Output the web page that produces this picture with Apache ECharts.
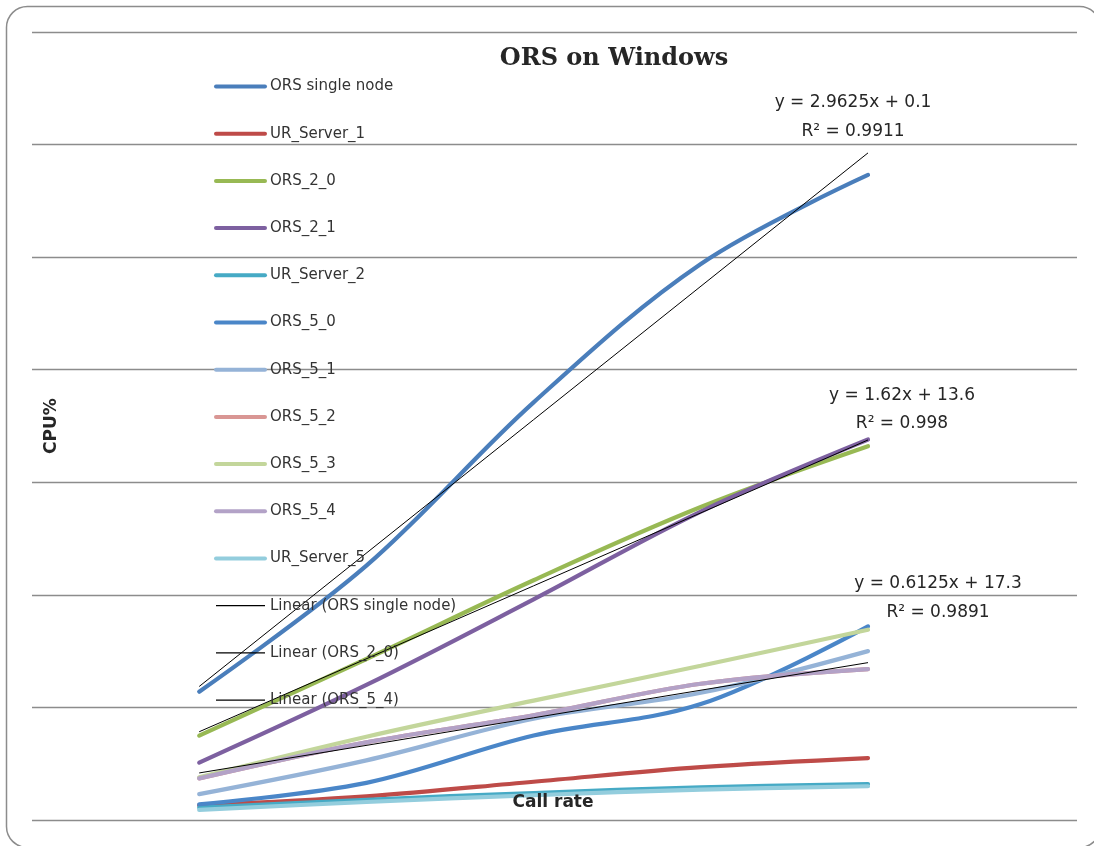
<!DOCTYPE html>
<html>
<head>
<meta charset="utf-8">
<script src="https://cdn.jsdelivr.net/npm/echarts@6/dist/echarts.min.js"></script>
<style>
  html, body { margin: 0; padding: 0; background: #ffffff; }
  #chart { width: 1094px; height: 846px; }
</style>
</head>
<body>
<div id="chart"></div>
<script>
// ---- data ----
const callRate = [40, 80, 120, 160, 200];
const seriesNames = ['ORS single node', 'UR_Server_1', 'ORS_2_0', 'ORS_2_1', 'UR_Server_2',
  'ORS_5_0', 'ORS_5_1', 'ORS_5_2', 'ORS_5_3', 'ORS_5_4', 'UR_Server_5'];
const orsSingleNode = [114, 226, 371, 494, 573];
const urServer1 = [13, 21, 34, 47, 55];
const ors20 = [75, 143, 213, 278, 332];
const ors21 = [51, 120, 196, 274, 338];
const urServer2 = [11, 18, 24, 29, 32];
const ors50 = [14, 33, 75, 103, 172];
const ors51 = [23, 53, 90, 113, 150];
const ors52 = [37, 69, 93, 121, 134];
const ors53 = [38, 74, 106, 137, 169];
const ors54 = [37, 69, 93, 121, 134];
const urServer5 = [9, 16, 22, 27, 30];
// trendlines (from the equations printed on the chart)
const trendNames = ['Linear (ORS single node)', 'Linear (ORS_2_0)', 'Linear (ORS_5_4)'];
const trendSlope = [2.9625, 1.62, 0.6125];
const trendIntercept = [0.1, 13.6, 17.3];
const trendEquation = ['y = 2.9625x + 0.1', 'y = 1.62x + 13.6', 'y = 0.6125x + 17.3'];
const trendR2 = ['R² = 0.9911', 'R² = 0.998', 'R² = 0.9891'];

const seriesValues = [orsSingleNode, urServer1, ors20, ors21, urServer2,
  ors50, ors51, ors52, ors53, ors54, urServer5];
const colors = ['#4A7EBB', '#BE4B48', '#98B954', '#7D60A0', '#46AAC5',
  '#4A86C8', '#95B3D7', '#D99694', '#C3D69B', '#B3A2C7', '#93CDDD'];

const series = seriesValues.map((vals, i) => ({
  name: seriesNames[i],
  type: 'line',
  smooth: 0.35,
  symbol: 'none',
  data: vals.map((v, j) => [callRate[j], v]),
  lineStyle: { color: colors[i], width: 4.2, cap: 'round' },
  itemStyle: { color: colors[i] },
  z: 2
}));
trendNames.forEach((n, i) => {
  const x0 = callRate[0], x1 = callRate[callRate.length - 1];
  series.push({
    name: n,
    type: 'line',
    symbol: 'none',
    data: [[x0, trendSlope[i] * x0 + trendIntercept[i]], [x1, trendSlope[i] * x1 + trendIntercept[i]]],
    lineStyle: { color: '#000000', width: 1 },
    itemStyle: { color: '#000000' },
    z: 3
  });
});

const legendData = seriesNames.map(n => ({ name: n }))
  .concat(trendNames.map(n => ({ name: n, lineStyle: { width: 1.3 } })));

const txt = (text, x, y, size, weight, family, extra) => Object.assign({
  type: 'text', x: x, y: y, silent: true, z: 10,
  style: { text: text, fontSize: size, fontWeight: weight || 'normal',
    fontFamily: family || 'DejaVu Sans', fill: '#262626', align: 'center', verticalAlign: 'middle' }
}, extra || {});

const chart = echarts.init(document.getElementById('chart'), null, { renderer: 'canvas' });
chart.setOption({
  animation: false,
  color: colors,
  grid: { left: 32, right: 17, top: 32, bottom: 26, containLabel: false },
  xAxis: {
    type: 'value', min: 0, max: 250,
    axisLine: { show: false }, axisTick: { show: false }, axisLabel: { show: false },
    splitLine: { show: false }
  },
  yAxis: {
    type: 'value', min: 0, max: 700, interval: 100,
    axisLine: { show: false }, axisTick: { show: false }, axisLabel: { show: false },
    splitLine: { show: true, lineStyle: { color: '#8c8c8c', width: 1.4 } }
  },
  legend: {
    orient: 'vertical', left: 214, top: 79, padding: 0,
    itemWidth: 49, itemHeight: 14, itemGap: 32.2,
    itemStyle: { opacity: 0, borderWidth: 0 },
    lineStyle: { width: 4 },
    textStyle: { fontFamily: 'DejaVu Sans', fontSize: 15, color: '#333333' },
    data: legendData
  },
  series: series,
  graphic: [
    { type: 'rect', silent: true, z: -10,
      shape: { x: 6.5, y: 6.5, width: 1094, height: 841, r: 21 },
      style: { fill: 'none', stroke: '#8c8c8c', lineWidth: 1.5 } },
    txt('ORS on Windows', 614, 59, 24, 'bold', 'DejaVu Serif'),
    txt('CPU%', 52, 426, 17, 'bold', 'DejaVu Sans', { rotation: Math.PI / 2 }),
    txt('Call rate', 553, 803, 17, 'bold', 'DejaVu Sans'),
    txt(trendEquation[0], 853, 103, 17),
    txt(trendR2[0], 853, 132, 17),
    txt(trendEquation[1], 902, 396, 17),
    txt(trendR2[1], 902, 424, 17),
    txt(trendEquation[2], 938, 584, 17),
    txt(trendR2[2], 938, 613, 17)
  ]
});
</script>
</body>
</html>
